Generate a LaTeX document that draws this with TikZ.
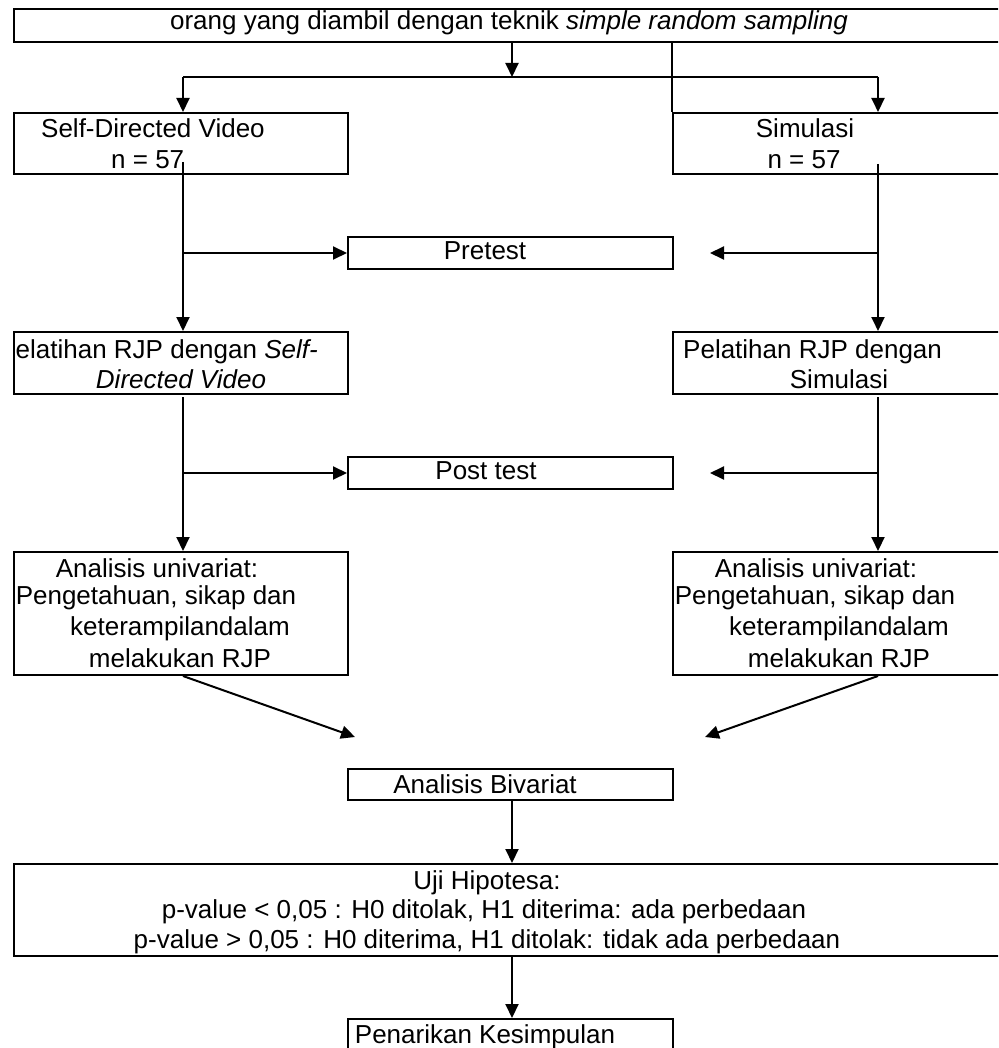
\documentclass[tikz,border=0pt]{standalone}
\usepackage{fontspec}
\setmainfont{Liberation Sans}
\usetikzlibrary{arrows.meta}
\begin{document}
\begin{tikzpicture}[x=1pt,y=-1pt,
  box/.style={draw, line width=2pt, inner sep=0pt, anchor=north west},
  conn/.style={line width=2pt},
  arr/.style={conn, -{Triangle[length=14pt,width=13pt]}},
  txt/.style={inner sep=0pt, font=\fontsize{26}{30}\selectfont}]
\useasboundingbox (0,0) rectangle (998,1048);
\clip (0,0) rectangle (998,1048);

% boxes
\node[box, minimum width=997, minimum height=33]  (top)  at (13,8)    {};
\node[box, minimum width=334, minimum height=61]  (sdv)  at (13,112)  {};
\node[box, minimum width=340, minimum height=61]  (sim)  at (672,112) {};
\node[box, minimum width=325, minimum height=32]  (pre)  at (347,236) {};
\node[box, minimum width=334, minimum height=62]  (pel1) at (13,331)  {};
\node[box, minimum width=340, minimum height=62]  (pel2) at (672,331) {};
\node[box, minimum width=325, minimum height=32]  (post) at (347,456) {};
\node[box, minimum width=334, minimum height=123] (ana1) at (13,551)  {};
\node[box, minimum width=340, minimum height=123] (ana2) at (672,551) {};
\node[box, minimum width=325, minimum height=31]  (biv)  at (347,768) {};
\node[box, minimum width=997, minimum height=92]  (uji)  at (13,863)  {};
\node[box, minimum width=325, minimum height=60]  (kes)  at (347,1018) {};

% texts
\node[txt] (ttop) at (509,23) {orang yang diambil dengan teknik \textit{simple random sampling}};
\node[txt, anchor=west] (tsdv1) at (41,128) {Self-Directed Video};
\node[txt, anchor=west] (tsdv2) at (111,160) {n = 57};
\node[txt] (tsim1) at (805,128) {Simulasi};
\node[txt] (tsim2) at (804,160) {n = 57};
\node[txt] (tpre) at (485,251) {Pretest};
\begin{scope}
  \clip (pel1.north west) rectangle (pel1.south east);
  \node[txt, anchor=east] (tpel1a) at (318,352) {Pelatihan RJP dengan \textit{Self-}};
  \node[txt] (tpel1b) at (181,379) {\textit{Directed Video}};
\end{scope}
\node[txt, anchor=west] (tpel2a) at (683,352) {Pelatihan RJP dengan};
\node[txt] (tpel2b) at (839,379) {Simulasi};
\node[txt] (tpost) at (486,471) {Post test};
\begin{scope}
  \clip (ana1.north west) rectangle (ana1.south east);
  \node[txt] (tana1a) at (157,568) {Analisis univariat:};
  \node[txt] (tana1b) at (156,598) {Pengetahuan, sikap dan};
  \node[txt] (tana1c) at (180,629) {keterampilandalam};
  \node[txt] (tana1d) at (180,658) {melakukan RJP};
\end{scope}
\begin{scope}
  \clip (ana2.north west) rectangle (ana2.south east);
  \node[txt] (tana2a) at (816,568) {Analisis univariat:};
  \node[txt] (tana2b) at (815,598) {Pengetahuan, sikap dan};
  \node[txt] (tana2c) at (839,629) {keterampilandalam};
  \node[txt] (tana2d) at (839,658) {melakukan RJP};
\end{scope}
\node[txt] (tbiv) at (485,784) {Analisis Bivariat};
\node[txt] (tuji1) at (487,883) {Uji Hipotesa:};
\node[txt] (tuji2) at (484,912) {p-value < 0,05 : H0 ditolak, H1 diterima: ada perbedaan};
\node[txt] (tuji3) at (487,942) {p-value > 0,05 : H0 diterima, H1 ditolak: tidak ada perbedaan};
\node[txt] (tkes) at (485,1037) {Penarikan Kesimpulan};

% trunk coordinates
\coordinate (fork)  at (512,77);
\coordinate (forkL) at (183,77);
\coordinate (forkR) at (878,77);
\coordinate (l1) at (183,162);
\coordinate (r1) at (878,164);
\coordinate (l2) at (183,397);
\coordinate (r2) at (878,397);
\coordinate (preR)  at (710,0);
\coordinate (bivL)  at (355,737);
\coordinate (bivR)  at (705,737);

% connectors
\draw[arr] (top.south -| fork) -- (fork);
\draw[conn] (forkL) -- (forkR);
\draw[arr] (forkL) -- (forkL |- sdv.north);
\draw[arr] (forkR) -- (forkR |- sim.north);
\draw[conn] (top.south -| sim.north west) -- (sim.north west);

\draw[arr] (l1) -- (l1 |- pel1.north);
\draw[arr] (l1 |- pre.west) -- (pre.west);
\draw[arr] (r1) -- (r1 |- pel2.north);
\draw[arr] (r1 |- pre.east) -- (preR |- pre.east);

\draw[arr] (l2) -- (l2 |- ana1.north);
\draw[arr] (l2 |- post.west) -- (post.west);
\draw[arr] (r2) -- (r2 |- ana2.north);
\draw[arr] (r2 |- post.east) -- (preR |- post.east);

\draw[arr] (l2 |- ana1.south) -- (bivL);
\draw[arr] (r2 |- ana2.south) -- (bivR);

\draw[arr] (biv.south -| fork) -- (fork |- uji.north);
\draw[arr] (uji.south -| fork) -- (fork |- kes.north);
\end{tikzpicture}
\end{document}
